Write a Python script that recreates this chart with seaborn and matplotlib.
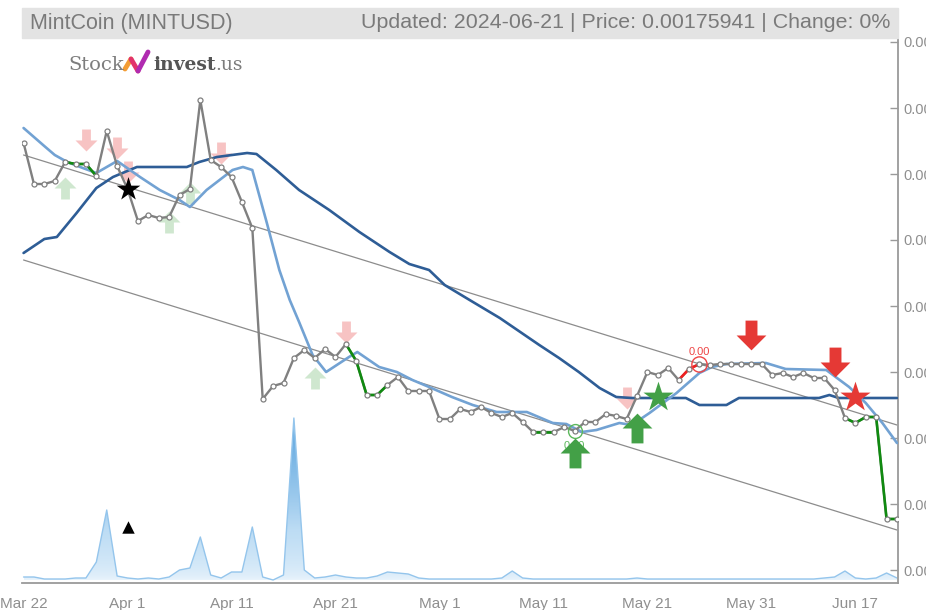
import numpy as np
import pandas as pd
import seaborn as sns
import matplotlib.pyplot as plt
from matplotlib.path import Path
from matplotlib.patches import Rectangle
from matplotlib.lines import Line2D
from matplotlib.colors import LinearSegmentedColormap

# daily closes of MINTUSD, index 0 = Mar 22 (dates have a gap in June)
price = [0.002137, 0.002096, 0.002096, 0.002099, 0.002118, 0.002116, 0.002116, 0.002104,
         0.002149, 0.002114, 0.002091, 0.002059, 0.002065, 0.002062, 0.002063, 0.002085,
         0.002091, 0.002180, 0.002120, 0.002113, 0.002103, 0.002078, 0.002052, 0.001881,
         0.001894, 0.001897, 0.001922, 0.001930, 0.001922, 0.001931, 0.001923, 0.001936,
         0.001919, 0.001885, 0.001885, 0.001895, 0.001903, 0.001889, 0.001889, 0.001889,
         0.001861, 0.001861, 0.001871, 0.001868, 0.001873, 0.001867, 0.001863, 0.001867,
         0.001858, 0.001848, 0.001848, 0.001848, 0.001853, 0.001849, 0.001858, 0.001858,
         0.001866, 0.001864, 0.001861, 0.001884, 0.001908, 0.001905, 0.001912, 0.001900,
         0.001911, 0.001916, 0.001915, 0.001916, 0.001916, 0.001916, 0.001916, 0.001916,
         0.001905, 0.001907, 0.001903, 0.001907, 0.001902, 0.001902, 0.001890, 0.001862,
         0.001857, 0.001863, 0.001863, 0.001761, 0.001761]

volume = [3, 3, 1, 1, 1, 2, 2, 18, 70, 4, 2, 1, 2, 1, 3, 10, 12, 43, 5, 2, 8, 8, 53,
          3, 0, 5, 162, 10, 2, 3, 5, 3, 2, 2, 4, 8, 7, 6, 2, 1, 1, 1, 1, 1, 1, 1, 2,
          9, 2, 1, 1, 1, 1, 1, 1, 1, 1, 1, 1, 2, 1, 1, 1, 1, 1, 1, 1, 1, 1, 1, 1, 1,
          1, 1, 1, 1, 1, 2, 3, 9, 2, 1, 2, 7, 2]

# fast moving average (light blue)
fast_x = [0, 2.1, 3.0, 4.2, 5.7, 7.0, 9.0, 11.2, 13.1, 15.0, 16.0, 17.6, 20.1, 21.1, 22.0,
          23.4, 24.6, 25.6, 26.5, 27.8, 29.1, 31.3, 32.1, 34.2, 35.9, 37.4, 39.0, 41.2,
          43.2, 45.5, 48.4, 50.9, 52.2, 53.7, 55.1, 57.3, 58.5, 60.2, 62.8, 65.0, 66.2,
          67.6, 71.4, 73.3, 77.2, 79.4, 81.0, 82.6, 84.0]
fast_y = [0.002152, 0.002133, 0.002125, 0.002118, 0.002112, 0.002107, 0.002119, 0.002103,
          0.002090, 0.002080, 0.002073, 0.002090, 0.002110, 0.002113, 0.002110, 0.002057,
          0.002010, 0.001980, 0.001958, 0.001925, 0.001908, 0.001923, 0.001928, 0.001913,
          0.001908, 0.001900, 0.001893, 0.001883, 0.001875, 0.001868, 0.001868, 0.001857,
          0.001856, 0.001848, 0.001850, 0.001857, 0.001855, 0.001867, 0.001887, 0.001907,
          0.001913, 0.001916, 0.001917, 0.001911, 0.001910, 0.001893, 0.001877, 0.001857,
          0.001837]

# slow moving average (dark blue)
slow_x = [0, 2.0, 3.2, 5.1, 7.0, 8.6, 10.9, 15.7, 16.9, 18.6, 21.5, 22.4, 24.3, 26.5, 29.4,
          32.3, 35.2, 37.1, 39.0, 40.5, 42.9, 45.8, 49.6, 51.5, 53.4, 55.4, 57.0, 58.5,
          63.7, 65.0, 67.6, 68.8, 76.5, 77.5, 78.4, 84.0]
slow_y = [0.002027, 0.002041, 0.002043, 0.002067, 0.002092, 0.002103, 0.002113, 0.002113,
          0.002118, 0.002123, 0.002127, 0.002126, 0.002110, 0.002090, 0.002070, 0.002048,
          0.002028, 0.002016, 0.002010, 0.001995, 0.001980, 0.001962, 0.001935, 0.001922,
          0.001908, 0.001892, 0.001883, 0.001882, 0.001882, 0.001875, 0.001875, 0.001882,
          0.001882, 0.001885, 0.001882, 0.001882]

# trend channel
trend_x = [0, 84]
trend_upper = [0.002125, 0.001855]
trend_lower = [0.002020, 0.001750]

# highlighted stretches of the close line
green_runs = [(4, 7), (31, 35), (49, 51), (79, 84)]
red_runs = [(63, 65)]

# signals
weak_sell_x = [6, 9, 10, 19, 31, 58]
weak_sell_y = [0.002140, 0.002132, 0.002108, 0.002127, 0.001948, 0.001882]
weak_buy_x = [4, 14, 16, 28]
weak_buy_y = [0.002092, 0.002058, 0.002087, 0.001902]
sell_x = [70, 78]
sell_y = [0.001945, 0.001918]
buy_x = [53, 59]
buy_y = [0.001827, 0.001852]
star_buy = (61, 0.001883)
star_sell = (80, 0.001883)
star_black = (10, 0.002091)
tri_black = (10, 0.001753)

tick_pos = [0, 10, 20, 30, 40, 50, 60, 70, 80]
tick_lab = ['Mar 22', 'Apr 1', 'Apr 11', 'Apr 21', 'May 1', 'May 11', 'May 21', 'May 31', 'Jun 17']
ytick_vals = [0.001710, 0.001776, 0.001842, 0.001908, 0.001974, 0.002040, 0.002106, 0.002172, 0.002238]

sns.set_theme(style='white')
plt.rcParams['font.family'] = ['Liberation Sans', 'DejaVu Sans']

df = pd.DataFrame({'day': np.arange(len(price)), 'close': price, 'volume': volume})

fig = plt.figure(figsize=(9.26, 6.1), dpi=100)
rect = [22 / 926, 27 / 610, 876 / 926, 547 / 610]
vax = fig.add_axes(rect)
ax = fig.add_axes(rect, sharex=vax)
ax.patch.set_alpha(0)

# volume in the background, gradient filled
poly = vax.fill_between(df['day'], 0, df['volume'], color='none', linewidth=0)
vol_cmap = LinearSegmentedColormap.from_list('vol', ['#eaf4fc', '#bcdcf4', '#5ea6df'])
grad = np.linspace(0, 1, 256).reshape(-1, 1) ** 0.6
img = vax.imshow(grad, cmap=vol_cmap, origin='lower', aspect='auto',
                 extent=[0, len(volume) - 1, 0, max(volume)], zorder=1)
img.set_clip_path(poly.get_paths()[0], transform=vax.transData)
sns.lineplot(data=df, x='day', y='volume', ax=vax, color='#94c5ec', linewidth=1, zorder=2)
vax.set_ylim(-3, 544)
vax.axis('off')

# arrows as markers
down = Path([(-0.2, 0.5), (0.2, 0.5), (0.2, 0.0), (0.5, 0.0), (0, -0.5), (-0.5, 0.0), (-0.2, 0.0), (-0.2, 0.5)],
            [1, 2, 2, 2, 2, 2, 2, 79])
up = Path([(x, -y) for x, y in down.vertices], down.codes)

ax.scatter(weak_sell_x, weak_sell_y, marker=down, s=250, color='#f7c3c3', linewidths=0, zorder=1)
ax.scatter(weak_buy_x, weak_buy_y, marker=up, s=250, color='#cfe7cf', linewidths=0, zorder=1)

ax.plot(trend_x, trend_upper, color='#8c8c8c', lw=0.9, zorder=2)
ax.plot(trend_x, trend_lower, color='#8c8c8c', lw=0.9, zorder=2)

sns.lineplot(x=slow_x, y=slow_y, ax=ax, color='#2e5d96', linewidth=1.9, sort=False, zorder=3)
sns.lineplot(x=fast_x, y=fast_y, ax=ax, color='#72a2d3', linewidth=1.9, sort=False, zorder=3)

sns.lineplot(data=df, x='day', y='close', ax=ax, color='#808080', linewidth=1.7, zorder=4)
for a, b in green_runs:
    seg = df.iloc[a:b + 1]
    ax.plot(seg['day'], seg['close'], color='#108a10', lw=1.9, zorder=5)
for a, b in red_runs:
    seg = df.iloc[a:b + 1]
    ax.plot(seg['day'], seg['close'], color='#f02020', lw=1.9, zorder=5)
ax.plot(df['day'], df['close'], ls='none', marker='o', ms=3.6, mfc='white', mec='#808080', mew=0.9, zorder=6)

# circled closes with labels
ax.plot(53, price[53], marker='o', ms=10, mfc='none', mec='#5cb85c', mew=1, zorder=7)
ax.text(53, price[53] - 0.000015, '0.00', color='#5cb85c', fontsize=8, ha='center', va='center', zorder=7)
ax.plot(65, price[65], marker='o', ms=11, mfc='none', mec='#ee4444', mew=1, zorder=7)
ax.text(65, price[65] + 0.000012, '0.00', color='#ee4444', fontsize=8, ha='center', va='center', zorder=7)

ax.scatter(sell_x, sell_y, marker=down, s=460, color='#e53935', linewidths=0, zorder=8)
ax.scatter(buy_x, buy_y, marker=up, s=460, color='#43a047', linewidths=0, zorder=8)
ax.scatter(*star_buy, marker='*', s=520, color='#43a047', linewidths=0, zorder=8)
ax.scatter(*star_sell, marker='*', s=520, color='#e53935', linewidths=0, zorder=8)
ax.scatter(*star_black, marker='*', s=320, color='black', linewidths=0, zorder=8)
ax.scatter(*tri_black, marker='^', s=80, color='black', linewidths=0, zorder=8)

ax.set_xlim(-0.15, 84.1)
ax.set_ylim(0.001697, 0.002244)
ax.set_xticks(tick_pos)
ax.set_xticklabels(tick_lab)
ax.yaxis.tick_right()
ax.set_yticks(ytick_vals)
ax.set_yticklabels([f'{v:.6f}' for v in ytick_vals])
ax.tick_params(axis='x', direction='out', length=6, width=1, color='#9a9a9a', labelcolor='#8f8f8f',
               labelsize=11, pad=4)
ax.tick_params(axis='y', direction='in', length=6, width=1, color='#9a9a9a', labelcolor='#8f8f8f',
               labelsize=10.5, pad=4)
ax.set_xlabel('')
ax.set_ylabel('')
for side in ['top', 'left']:
    ax.spines[side].set_visible(False)
for side in ['right', 'bottom']:
    ax.spines[side].set_color('#9a9a9a')
    ax.spines[side].set_linewidth(1.3)

# header bar
fig.patches.append(Rectangle((22 / 926, 572 / 610), 876 / 926, 30 / 610, transform=fig.transFigure,
                             color='#e3e3e3', zorder=0))
fig.text(30 / 926, 587 / 610, 'MintCoin (MINTUSD)', color='#7a7a7a', fontsize=15.5, va='center', ha='left')
fig.text(890 / 926, 587 / 610, 'Updated: 2024-06-21 | Price: 0.00175941 | Change: 0%', color='#7a7a7a',
         fontsize=15.4, va='center', ha='right')

# logo
fig.text(68 / 926, 545 / 610, 'Stock', color='#7d7d7d', fontsize=14, va='center', ha='left',
         family='DejaVu Serif')
fig.add_artist(Line2D([125 / 926, 131 / 926], [541 / 610, 551 / 610], color='#f39c34', lw=3.5,
                      transform=fig.transFigure))
fig.add_artist(Line2D([131 / 926, 138 / 926], [551 / 610, 539 / 610], color='#e2336b', lw=3.5,
                      transform=fig.transFigure))
fig.add_artist(Line2D([138 / 926, 148 / 926], [539 / 610, 558 / 610], color='#b02bb0', lw=3.5,
                      transform=fig.transFigure))
fig.text(153 / 926, 545 / 610, 'invest', color='#555555', fontsize=13.5, va='center', ha='left',
         family='DejaVu Serif', weight='bold')
fig.text(215 / 926, 545 / 610, '.us', color='#7d7d7d', fontsize=13.5, va='center', ha='left',
         family='DejaVu Serif')

fig.savefig('out.png', dpi=100)
